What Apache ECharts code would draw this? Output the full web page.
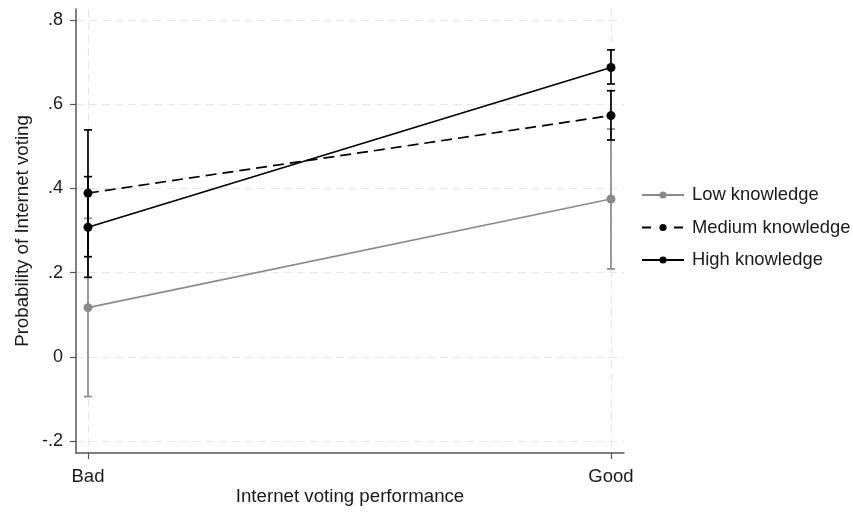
<!DOCTYPE html>
<html>
<head>
<meta charset="utf-8">
<script src="https://cdn.jsdelivr.net/npm/echarts@6/dist/echarts.min.js"></script>
<style>
  html, body { margin: 0; padding: 0; background: #fff; }
  #chart { width: 853px; height: 515px; }
</style>
</head>
<body>
<div id="chart"></div>
<script>
// Internet voting performance (0 = Bad, 1 = Good)
const categories = ['Bad', 'Good'];
const xPositions = [0, 1];

const seriesNames = ['Low knowledge', 'Medium knowledge', 'High knowledge'];

// Predicted probabilities and 95% confidence limits
const lowEstimate  = [0.117, 0.375];
const lowLower     = [-0.094, 0.209];
const lowUpper     = [0.329, 0.541];

const medEstimate  = [0.389, 0.573];
const medLower     = [0.238, 0.515];
const medUpper     = [0.539, 0.632];

const highEstimate = [0.308, 0.687];
const highLower    = [0.189, 0.648];
const highUpper    = [0.428, 0.729];

const yTicks = [-0.2, 0, 0.2, 0.4, 0.6, 0.8];

const FONT = '"Liberation Sans", Arial, sans-serif';
const GRAY = '#8a8a8a';
const BLACK = '#000000';
const TEXT = '#1a1a1a';

function fmtTick(v) {
  if (Math.abs(v) < 1e-9) return '0';
  let s = (Math.round(v * 10) / 10).toString();
  return s.replace(/^(-?)0\./, '$1.');
}

function errorBarSeries(name, lower, upper, color) {
  return {
    type: 'custom',
    name: name + ' CI',
    data: xPositions.map((x, i) => [x, lower[i], upper[i]]),
    z: 2,
    silent: true,
    renderItem: function (params, api) {
      const x = api.value(0);
      const lo = api.coord([x, api.value(1)]);
      const hi = api.coord([x, api.value(2)]);
      const half = 4;
      const style = { stroke: color, lineWidth: 1.7, fill: null };
      return {
        type: 'group',
        children: [
          { type: 'line', shape: { x1: lo[0], y1: lo[1], x2: hi[0], y2: hi[1] }, style: style },
          { type: 'line', shape: { x1: lo[0] - half, y1: lo[1], x2: lo[0] + half, y2: lo[1] }, style: style },
          { type: 'line', shape: { x1: hi[0] - half, y1: hi[1], x2: hi[0] + half, y2: hi[1] }, style: style }
        ]
      };
    }
  };
}

function lineSeries(name, values, color, dashed) {
  return {
    type: 'line',
    name: name,
    data: xPositions.map((x, i) => [x, values[i]]),
    z: 3,
    symbol: 'circle',
    symbolSize: 9,
    showSymbol: true,
    itemStyle: { color: color },
    lineStyle: { color: color, width: 1.7, type: dashed ? [11, 6] : 'solid' },
    emphasis: { disabled: true }
  };
}

const chart = echarts.init(document.getElementById('chart'), null, { renderer: 'canvas' });

chart.setOption({
  animation: false,
  backgroundColor: '#ffffff',
  grid: { left: 76, right: 229, top: 9, bottom: 62, containLabel: false },
  legend: {
    data: [
      { name: seriesNames[0] },
      { name: seriesNames[1], lineStyle: { type: [9, 23] } },
      { name: seriesNames[2] }
    ],
    orient: 'vertical',
    left: 636,
    top: 181,
    itemWidth: 42,
    itemHeight: 9,
    itemGap: 14.5,
    textStyle: { fontFamily: FONT, fontSize: 18.4, color: TEXT, padding: [0, 0, 0, 3] },
    selectedMode: false
  },
  xAxis: {
    type: 'value',
    min: -0.0229,
    max: 1.0249,
    name: 'Internet voting performance',
    nameLocation: 'middle',
    nameGap: 34,
    nameMoveOverlap: false,
    nameTextStyle: { fontFamily: FONT, fontSize: 18.7, color: TEXT },
    axisLine: { show: true, onZero: false, lineStyle: { color: '#555', width: 1.5 } },
    axisTick: { show: true, length: 6, customValues: xPositions, lineStyle: { color: '#555', width: 1.2 } },
    axisLabel: {
      customValues: xPositions,
      formatter: v => categories[Math.round(v)],
      fontFamily: FONT, fontSize: 18.5, color: TEXT, margin: 14
    },
    splitLine: { show: true, lineStyle: { color: '#e6e6e6', type: [8, 5], width: 1.2 } }
  },
  yAxis: {
    type: 'value',
    min: -0.228,
    max: 0.826,
    name: 'Probability of Internet voting',
    nameLocation: 'middle',
    nameGap: 44,
    nameMoveOverlap: false,
    nameTextStyle: { fontFamily: FONT, fontSize: 18.7, color: TEXT },
    axisLine: { show: true, onZero: false, lineStyle: { color: '#555', width: 1.5 } },
    axisTick: { show: true, length: 6, customValues: yTicks, lineStyle: { color: '#555', width: 1.2 } },
    axisLabel: {
      customValues: yTicks,
      formatter: fmtTick,
      fontFamily: FONT, fontSize: 18, color: TEXT, margin: 13
    },
    splitLine: { show: true, lineStyle: { color: '#e6e6e6', type: [8, 5], width: 1.2 } }
  },
  series: [
    errorBarSeries(seriesNames[0], lowLower, lowUpper, GRAY),
    errorBarSeries(seriesNames[1], medLower, medUpper, BLACK),
    errorBarSeries(seriesNames[2], highLower, highUpper, BLACK),
    lineSeries(seriesNames[0], lowEstimate, GRAY, false),
    lineSeries(seriesNames[1], medEstimate, BLACK, true),
    lineSeries(seriesNames[2], highEstimate, BLACK, false)
  ]
});
</script>
</body>
</html>
